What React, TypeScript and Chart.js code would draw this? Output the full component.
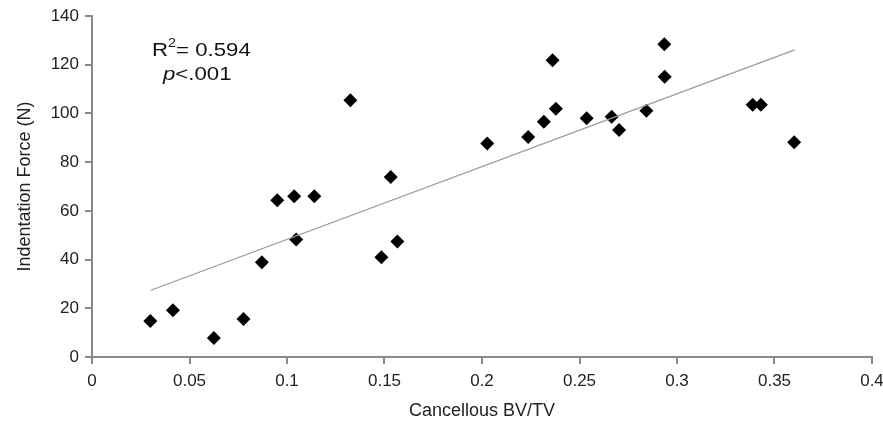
import React, { useEffect, useRef } from "react";
import { Chart, registerables } from "chart.js";

Chart.register(...registerables);

const bvtv = [0.0299, 0.0415, 0.0625, 0.0777, 0.0871, 0.095, 0.1037, 0.1047, 0.114, 0.1325, 0.1484, 0.1532, 0.1566, 0.2027, 0.2237, 0.2317, 0.2362, 0.2379, 0.2537, 0.2665, 0.2703, 0.2843, 0.2935, 0.2937, 0.3388, 0.343, 0.3601];
const force = [14.8, 19.2, 7.8, 15.6, 38.9, 64.4, 66.0, 48.2, 66.0, 105.4, 41.0, 73.9, 47.4, 87.7, 90.3, 96.6, 121.8, 101.9, 98.0, 98.6, 93.2, 101.1, 128.4, 115.1, 103.6, 103.6, 88.2];
const trendX = [0.0302, 0.3603];
const trendY = [27.4, 126.1];
const annotationR2 = "0.594";
const annotationP = "<.001";

const FONT = "'Liberation Sans', Arial, sans-serif";

export default function App() {
  const ref = useRef<HTMLCanvasElement>(null);
  useEffect(() => {
    const annot = {
      id: "annot",
      afterDraw(chart: any) {
        const ctx = chart.ctx;
        ctx.save();
        ctx.fillStyle = "#111";
        ctx.textBaseline = "alphabetic";
        ctx.textAlign = "left";
        // first line
        ctx.save();
        ctx.translate(152, 56);
        ctx.scale(1.2, 1);
        ctx.font = `18.5px ${FONT}`;
        ctx.fillText("R", 0, 0);
        const wR = ctx.measureText("R").width;
        ctx.font = `12px ${FONT}`;
        ctx.fillText("2", wR, -9);
        const w2 = ctx.measureText("2").width;
        ctx.font = `18.5px ${FONT}`;
        ctx.fillText("= " + annotationR2, wR + w2, 0);
        ctx.restore();
        // second line
        ctx.save();
        ctx.translate(163, 80);
        ctx.scale(1.2, 1);
        ctx.font = `italic 18.5px ${FONT}`;
        ctx.fillText("p", 0, 0);
        const wp = ctx.measureText("p").width;
        ctx.font = `18.5px ${FONT}`;
        ctx.fillText(annotationP, wp, 0);
        ctx.restore();
        ctx.restore();
      },
    };
    const chart = new Chart(ref.current!, {
      type: "scatter",
      data: {
        datasets: [
          {
            type: "line",
            data: trendX.map((x, i) => ({ x, y: trendY[i] })),
            borderColor: "#9a9a9a",
            borderWidth: 1.2,
            pointRadius: 0,
            fill: false,
          } as any,
          {
            data: bvtv.map((x, i) => ({ x, y: force[i] })),
            pointStyle: "rectRot",
            pointRadius: 7,
            backgroundColor: "#000",
            borderColor: "#000",
            borderWidth: 0,
          },
        ],
      },
      plugins: [annot],
      options: {
        animation: false,
        responsive: false,
        maintainAspectRatio: false,
        layout: { padding: { left: 0, right: 11, top: 16, bottom: 0 } },
        plugins: { legend: { display: false }, tooltip: { enabled: false } },
        scales: {
          x: {
            type: "linear",
            min: 0,
            max: 0.4,
            ticks: {
              stepSize: 0.05,
              color: "#222",
              font: { family: FONT, size: 17 },
              padding: 7,
              maxRotation: 0,
              callback: (v: any) => String(parseFloat(Number(v).toFixed(2))),
            },
            grid: { drawOnChartArea: false, drawTicks: true, tickLength: 7, color: "#8a8a8a", lineWidth: 2 },
            border: { color: "#8a8a8a", width: 2 },
            title: { display: true, text: "Cancellous BV/TV", color: "#222", font: { family: FONT, size: 18 }, padding: { top: 4, bottom: 2 } },
            afterFit(scale: any) {
              scale.height = 67;
              scale.paddingRight = 0;
              scale.paddingLeft = 0;
            },
          },
          y: {
            type: "linear",
            min: 0,
            max: 140,
            ticks: { stepSize: 20, color: "#222", font: { family: FONT, size: 17 }, padding: 6 },
            grid: { drawOnChartArea: false, drawTicks: true, tickLength: 7, color: "#8a8a8a", lineWidth: 2 },
            border: { color: "#8a8a8a", width: 2 },
            title: { display: true, text: "Indentation Force (N)", color: "#222", font: { family: FONT, size: 18 }, padding: { top: 14, bottom: 4 } },
            afterFit(scale: any) {
              scale.width = 92;
              scale.paddingTop = 0;
              scale.paddingBottom = 0;
            },
          },
        },
      } as any,
    });
    return () => chart.destroy();
  }, []);
  return (
    <div style={{ position: "absolute", left: 0, top: 0, width: 883, height: 424, background: "#fff" }}>
      <canvas ref={ref} width={883} height={424} />
    </div>
  );
}
